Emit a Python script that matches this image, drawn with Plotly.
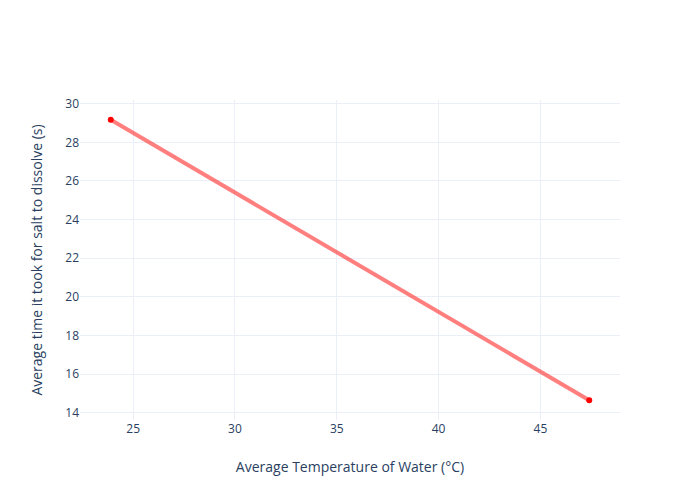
import plotly.graph_objects as go

temperature = [23.9, 47.4]
dissolve_time = [29.17, 14.65]

fig = go.Figure()
fig.add_trace(go.Scatter(
    x=temperature, y=dissolve_time, mode="lines",
    line=dict(color="rgba(255,0,0,0.5)", width=4),
    showlegend=False,
))
fig.add_trace(go.Scatter(
    x=temperature, y=dissolve_time, mode="markers",
    marker=dict(color="red", size=6),
    showlegend=False,
))
fig.update_layout(
    template="plotly_white",
    width=692, height=492,
    margin=dict(l=72, r=80, t=92, b=80),
    xaxis=dict(title=dict(text="Average Temperature of Water (°C)", standoff=26)),
    yaxis=dict(title=dict(text="Average time it took for salt to dissolve (s)", standoff=19)),
)
fig.write_html("out.html")
